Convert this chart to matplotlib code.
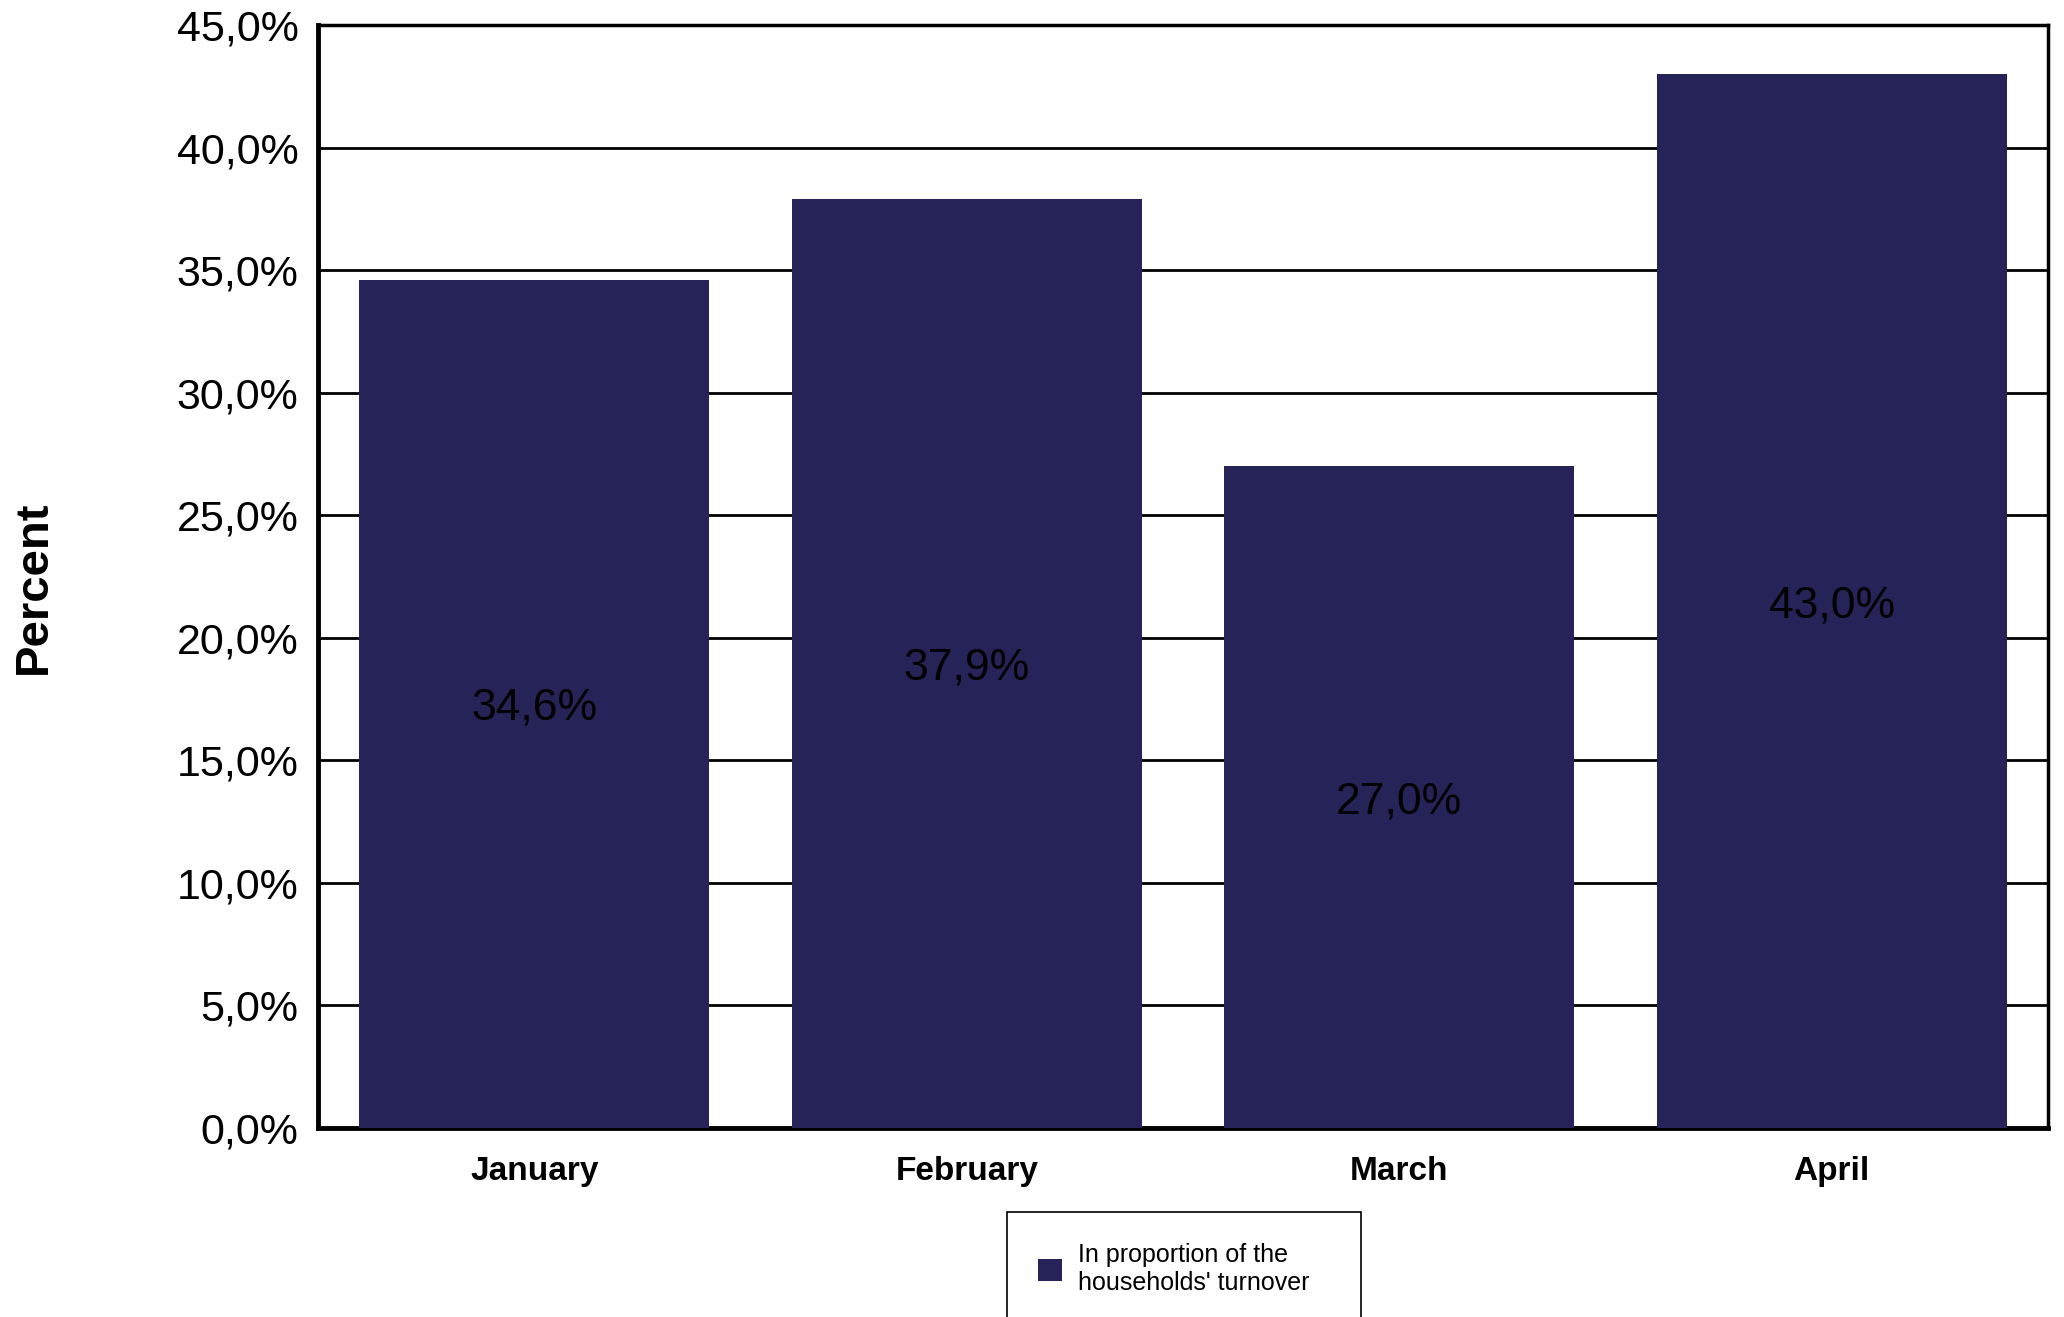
import numpy as np
import matplotlib
matplotlib.use("Agg")
import matplotlib.pyplot as plt
from matplotlib.patches import Rectangle
from matplotlib.ticker import FuncFormatter

months = ["January", "February", "March", "April"]
shares = [34.6, 37.9, 27.0, 43.0]
series_name = "In proportion of the\nhouseholds' turnover"

plt.rcParams['font.family'] = ['Liberation Sans', 'DejaVu Sans']

W, H = 2064, 1317
fig = plt.figure(figsize=(W / 100, H / 100), dpi=100)
ax = fig.add_axes([0.1541, 0.1435, 0.9922 - 0.1541, 0.981 - 0.1435])

x = np.arange(len(months))
bars = ax.bar(x, shares, width=0.81, color='#252357', zorder=3, label=series_name)

for b, v in zip(bars, shares):
    ax.text(b.get_x() + b.get_width() / 2, v / 2, f"{v:.1f}%".replace('.', ','),
            ha='center', va='center_baseline', fontsize=32, color='black', zorder=4)

ax.set_xlim(-0.5, 3.5)
ax.set_ylim(0, 45)
ax.set_yticks(np.arange(0, 45.1, 5))
ax.yaxis.set_major_formatter(FuncFormatter(lambda v, p: f"{v:.1f}%".replace('.', ',')))
ax.set_xticks(x)
ax.set_xticklabels(months, fontsize=24, fontweight='bold')
ax.tick_params(axis='y', labelsize=31, length=0, pad=14)
ax.tick_params(axis='x', length=0, pad=20)

ax.grid(axis='y', color='black', linewidth=2, zorder=1)
ax.set_axisbelow(True)
for side in ['left', 'bottom']:
    ax.spines[side].set_linewidth(3.5)
for side in ['top', 'right']:
    ax.spines[side].set_linewidth(2.5)

fig.text(34 / W, 0.554, "Percent", rotation=90, ha='center', va='center',
         fontsize=34, fontweight='bold')

# legend box runs past the bottom edge, as in the original
fig.patches.append(Rectangle((1007 / W, -0.02), (1361 - 1007) / W, 0.02 + 1 - 1212 / H,
                             transform=fig.transFigure, facecolor='white',
                             edgecolor='black', linewidth=1.2, zorder=1))
leg = fig.legend(loc='upper left', bbox_to_anchor=(1038 / W, 1 - 1243 / H),
                 fontsize=18, frameon=False, borderpad=0, borderaxespad=0,
                 handlelength=0.96, handleheight=0.96, handletextpad=0.64)
leg.set_zorder(2)

fig.savefig("out.png", dpi=100)
